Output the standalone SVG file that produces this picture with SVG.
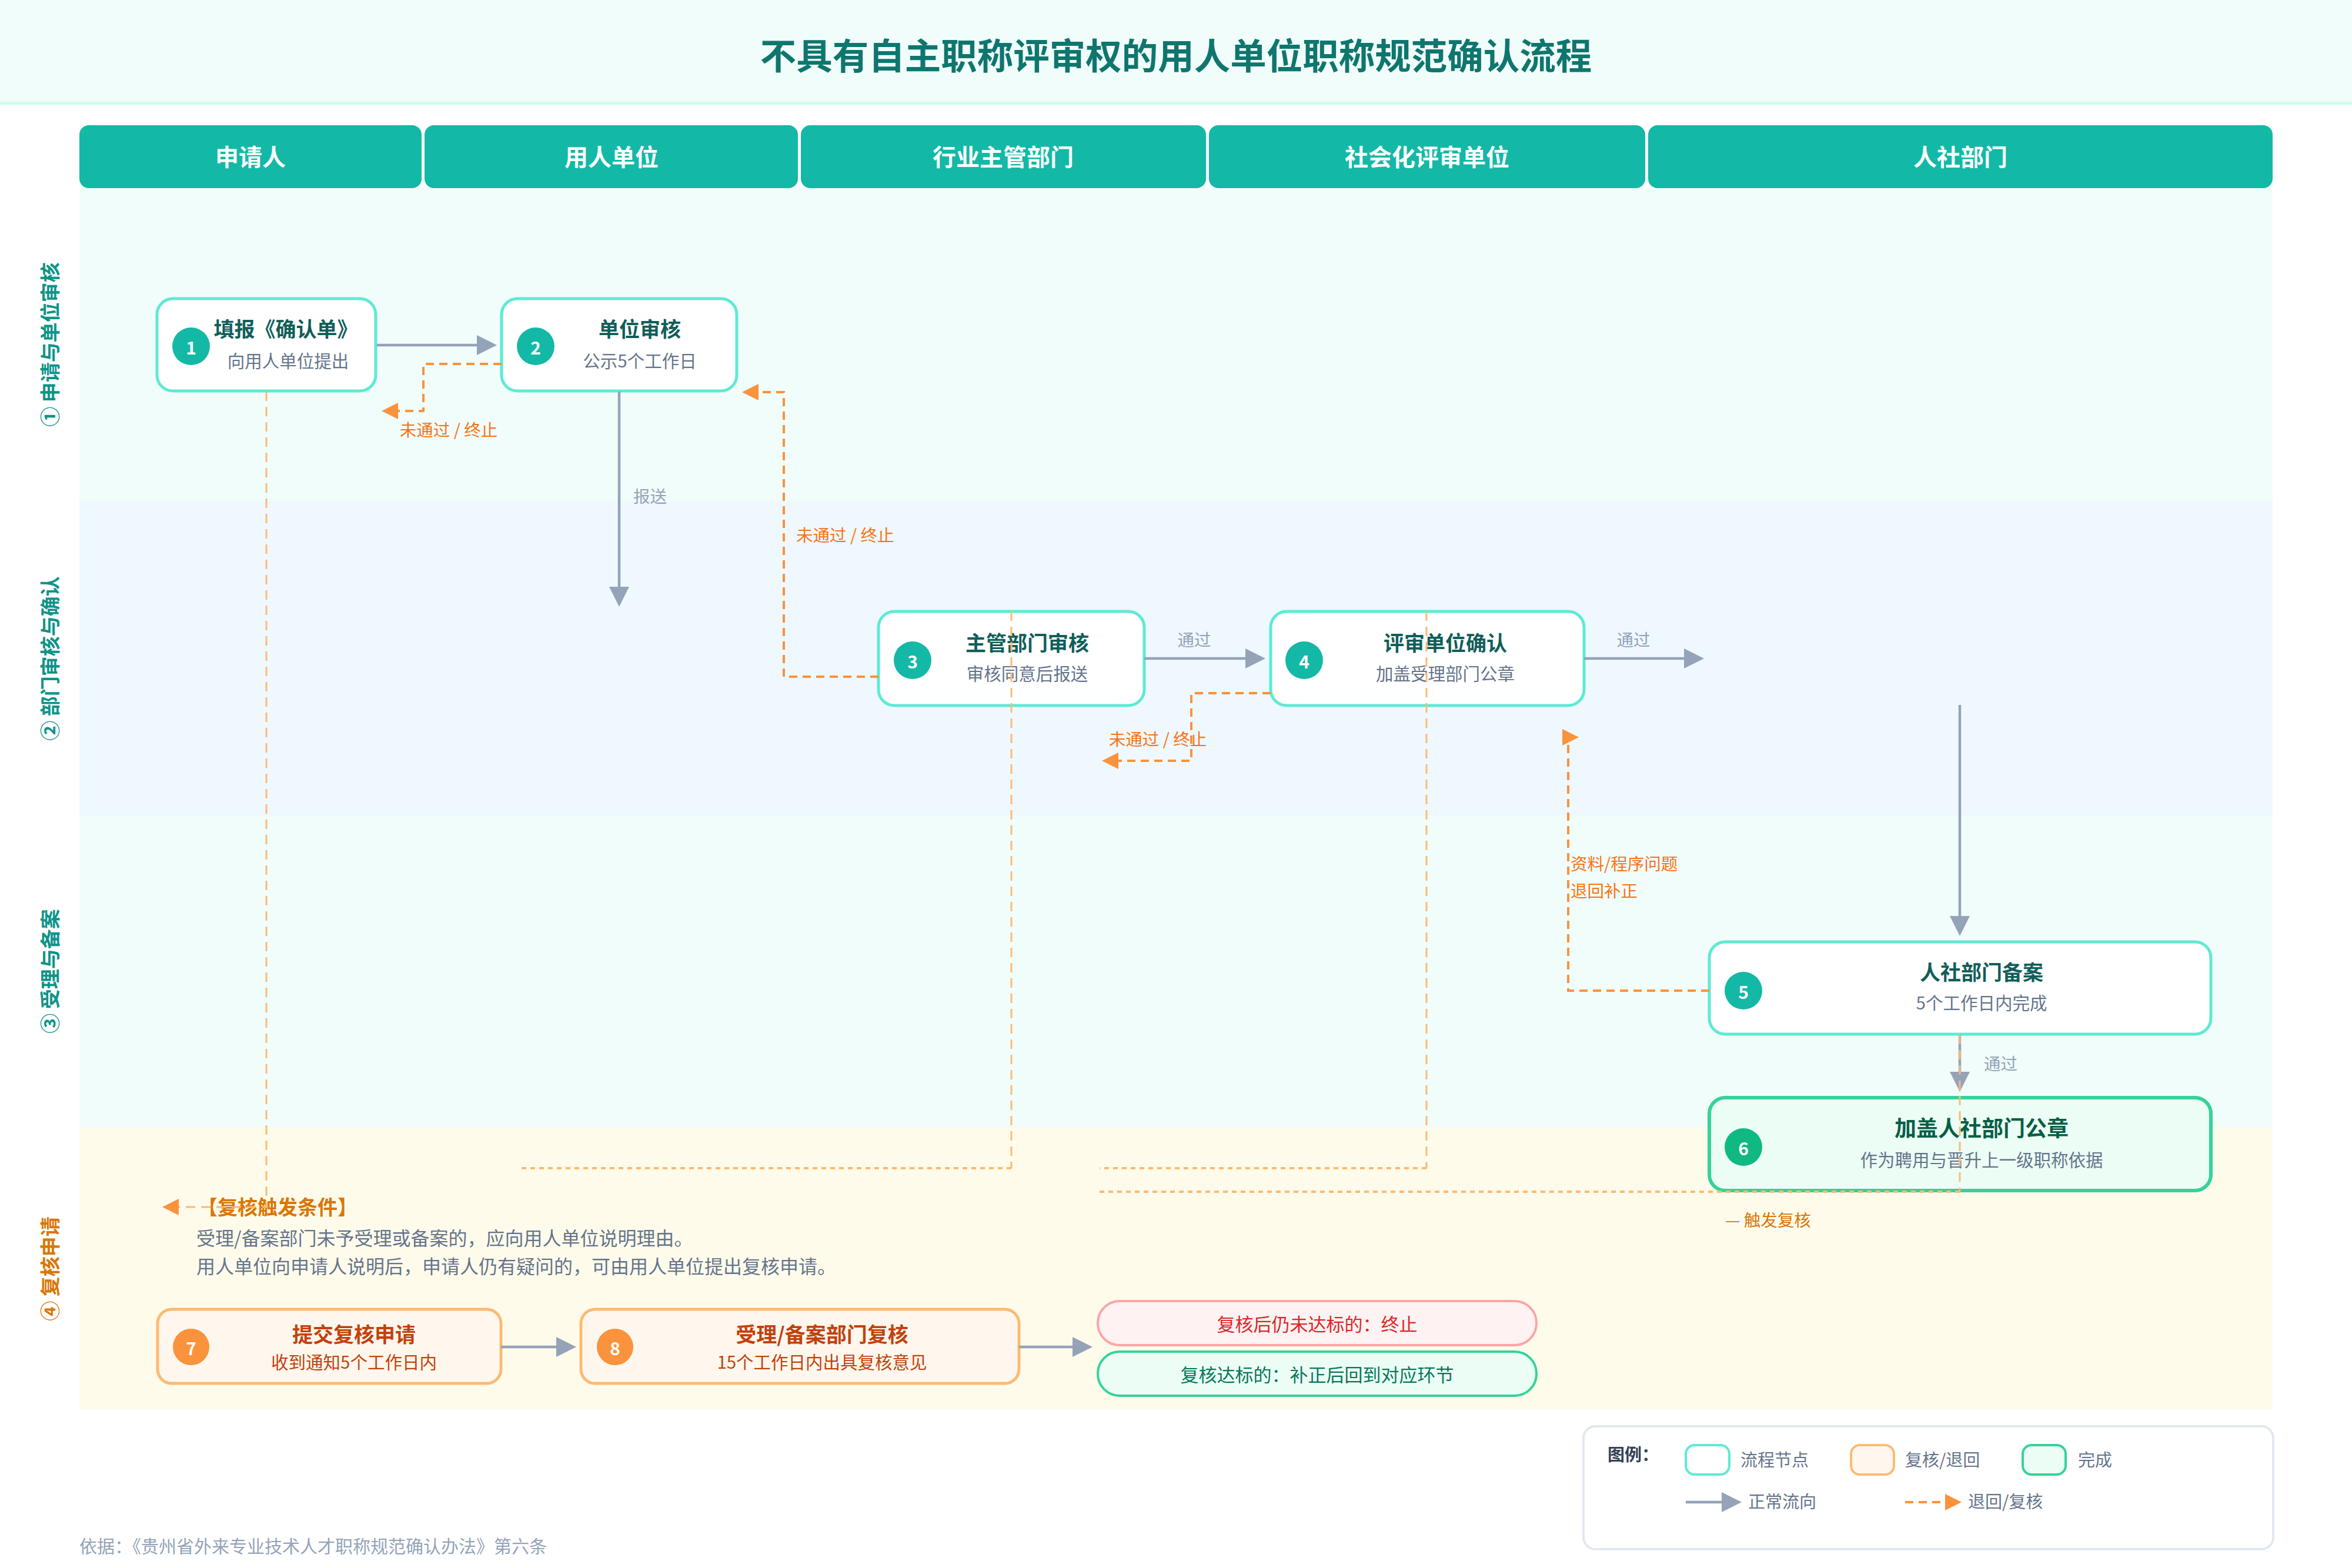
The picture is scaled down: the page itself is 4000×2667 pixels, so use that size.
<svg xmlns="http://www.w3.org/2000/svg" width="4000" height="2667" viewBox="0 0 4000 2667">
<defs>
<style>
text{font-family:"Noto Sans CJK SC","Noto Sans",sans-serif;}
.hdr{fill:#14b8a6;}
.hdrt{fill:#ffffff;font-size:40px;font-weight:700;text-anchor:middle;dominant-baseline:central;}
.row{font-size:34px;font-weight:700;text-anchor:middle;dominant-baseline:central;}
.node{fill:#ffffff;stroke:#5eead4;stroke-width:5;}
.done{fill:#ecfdf5;stroke:#34d399;stroke-width:6;}
.rev{fill:#fff7ed;stroke:#fdba74;stroke-width:5;}
.num{fill:#14b8a6;}
.numt{fill:#ffffff;font-size:30px;font-weight:700;text-anchor:middle;dominant-baseline:central;}
.nt{fill:#115e59;font-size:35px;font-weight:700;text-anchor:middle;dominant-baseline:central;}
.ns{fill:#64748b;font-size:29.5px;text-anchor:middle;dominant-baseline:central;}
.rt{fill:#c2410c;font-size:35px;font-weight:700;text-anchor:middle;dominant-baseline:central;}
.rs{fill:#c2410c;font-size:29.5px;text-anchor:middle;dominant-baseline:central;}
.flow{fill:none;stroke:#94a3b8;stroke-width:4.5;}
.back{fill:none;stroke:#fb923c;stroke-width:4;stroke-dasharray:14 9;}
.trig{fill:none;stroke:#fdba74;stroke-width:3;stroke-dasharray:16 10;}
.dot{fill:none;stroke:#fdba74;stroke-width:4;stroke-dasharray:8 7;}
.gl{fill:#94a3b8;font-size:28.5px;dominant-baseline:central;}
.ol{fill:#f97316;font-size:28.5px;dominant-baseline:central;}
.body{fill:#64748b;font-size:32px;dominant-baseline:central;}
.lg{fill:#64748b;font-size:29px;dominant-baseline:central;}
</style>
<marker id="ag" markerUnits="userSpaceOnUse" markerWidth="34" markerHeight="34" viewBox="0 0 34 34" refX="24" refY="17" orient="auto"><path d="M0,0 L34,17 L0,34 Z" fill="#94a3b8"/></marker>
<marker id="ao" markerUnits="userSpaceOnUse" markerWidth="28" markerHeight="28" viewBox="0 0 28 28" refX="18" refY="14" orient="auto"><path d="M0,0 L28,14 L0,28 Z" fill="#fb923c"/></marker>
</defs>

<rect x="0" y="0" width="4000" height="2667" fill="#ffffff"/>
<rect x="0" y="0" width="4000" height="175" fill="#f0fdfa"/>
<line x1="0" y1="175.5" x2="4000" y2="175.5" stroke="#ccfbf1" stroke-width="5"/>
<text x="2000" y="91" fill="#0f766e" font-size="61.5" font-weight="700" text-anchor="middle" dominant-baseline="central">不具有自主职称评审权的用人单位职称规范确认流程</text>

<g id="phases">
<rect x="135" y="320" width="3730" height="532" fill="#f0fdfa"/>
<rect x="135" y="852" width="3730" height="535" fill="#eff8ff"/>
<rect x="135" y="1387" width="3730" height="530" fill="#f0fdfa"/>
<rect x="135" y="1917" width="3730" height="481" fill="#fffbeb"/>
<text class="row" fill="#0d9488" transform="translate(83,586) rotate(-90)">① 申请与单位审核</text>
<text class="row" fill="#0d9488" transform="translate(83,1120) rotate(-90)">② 部门审核与确认</text>
<text class="row" fill="#0d9488" transform="translate(83,1652) rotate(-90)">③ 受理与备案</text>
<text class="row" fill="#d97706" transform="translate(83,2158) rotate(-90)">④ 复核申请</text>
</g>

<g id="lanes">
<rect class="hdr" x="135" y="213" width="582" height="107" rx="16"/>
<text class="hdrt" x="426" y="265">申请人</text>
<rect class="hdr" x="722" y="213" width="635" height="107" rx="16"/>
<text class="hdrt" x="1040" y="265">用人单位</text>
<rect class="hdr" x="1362" y="213" width="689" height="107" rx="16"/>
<text class="hdrt" x="1706" y="265">行业主管部门</text>
<rect class="hdr" x="2056" y="213" width="742" height="107" rx="16"/>
<text class="hdrt" x="2427" y="265">社会化评审单位</text>
<rect class="hdr" x="2803" y="213" width="1062" height="107" rx="16"/>
<text class="hdrt" x="3334" y="265">人社部门</text>
</g>

<g id="node1">
<rect class="node" x="267" y="508" width="372" height="157" rx="27"/>
<circle class="num" cx="325" cy="589" r="32"/>
<text class="numt" x="325" y="590">1</text>
<text class="nt" x="486" y="557">填报《确认单》</text>
<text class="ns" x="490" y="612">向用人单位提出</text>
</g>

<g id="node2">
<rect class="node" x="853" y="508" width="400" height="157" rx="27"/>
<circle class="num" cx="911" cy="589" r="32"/>
<text class="numt" x="911" y="590">2</text>
<text class="nt" x="1088" y="557">单位审核</text>
<text class="ns" x="1088" y="612">公示5个工作日</text>
</g>

<g id="node3">
<rect class="node" x="1494" y="1040" width="452" height="160" rx="27"/>
<circle class="num" cx="1552" cy="1123" r="32"/>
<text class="numt" x="1552" y="1124">3</text>
<text class="nt" x="1747" y="1091">主管部门审核</text>
<text class="ns" x="1747" y="1144">审核同意后报送</text>
</g>

<g id="node4">
<rect class="node" x="2161" y="1040" width="533" height="160" rx="27"/>
<circle class="num" cx="2218" cy="1123" r="32"/>
<text class="numt" x="2218" y="1124">4</text>
<text class="nt" x="2458" y="1091">评审单位确认</text>
<text class="ns" x="2458" y="1144">加盖受理部门公章</text>
</g>

<g id="node5">
<rect class="node" x="2907" y="1602" width="853" height="157" rx="27"/>
<circle class="num" cx="2965" cy="1685" r="32"/>
<text class="numt" x="2965" y="1686">5</text>
<text class="nt" x="3370" y="1651">人社部门备案</text>
<text class="ns" x="3370" y="1704">5个工作日内完成</text>
</g>

<g id="node6">
<rect class="done" x="2907" y="1867" width="853" height="158" rx="27"/>
<circle cx="2965" cy="1951" r="32" fill="#10b981"/>
<text class="numt" x="2965" y="1952">6</text>
<text class="nt" x="3370" y="1917" style="fill:#065f46;font-size:37px">加盖人社部门公章</text>
<text class="ns" x="3370" y="1971">作为聘用与晋升上一级职称依据</text>
</g>

<g id="trigger">
<text x="336" y="2051" fill="#d97706" font-size="34" font-weight="700" dominant-baseline="central">【复核触发条件】</text>
<text class="body" x="334" y="2104">受理/备案部门未予受理或备案的，应向用人单位说明理由。</text>
<text class="body" x="334" y="2152">用人单位向申请人说明后，申请人仍有疑问的，可由用人单位提出复核申请。</text>
</g>

<g id="node7">
<rect class="rev" x="268" y="2227" width="584" height="126" rx="24"/>
<circle cx="325" cy="2291" r="31" fill="#fb923c"/>
<text class="numt" x="325" y="2292">7</text>
<text class="rt" x="602" y="2267">提交复核申请</text>
<text class="rs" x="602" y="2315">收到通知5个工作日内</text>
</g>

<g id="node8">
<rect class="rev" x="988" y="2227" width="745" height="126" rx="24"/>
<circle cx="1046" cy="2291" r="31" fill="#fb923c"/>
<text class="numt" x="1046" y="2292">8</text>
<text class="rt" x="1398" y="2267">受理/备案部门复核</text>
<text class="rs" x="1398" y="2315">15个工作日内出具复核意见</text>
</g>

<g id="outcome-fail">
<rect x="1867" y="2213" width="746" height="75" rx="37" fill="#fef2f2" stroke="#fca5a5" stroke-width="4"/>
<text x="2240" y="2250" fill="#dc2626" font-size="31" text-anchor="middle" dominant-baseline="central">复核后仍未达标的：终止</text>
</g>

<g id="outcome-pass">
<rect x="1867" y="2299" width="746" height="75" rx="37" fill="#ecfdf5" stroke="#34d399" stroke-width="4"/>
<text x="2240" y="2336" fill="#047857" font-size="31" text-anchor="middle" dominant-baseline="central">复核达标的：补正后回到对应环节</text>
</g>

<g id="connectors">
<path class="flow" d="M641 587 H835" marker-end="url(#ag)"/>
<path class="flow" d="M1053 666 V1022" marker-end="url(#ag)"/>
<text class="gl" x="1077" y="842">报送</text>
<path class="flow" d="M1946 1120 H2142" marker-end="url(#ag)"/>
<text class="gl" x="2031" y="1086" text-anchor="middle">通过</text>
<path class="flow" d="M2694 1120 H2888" marker-end="url(#ag)"/>
<text class="gl" x="2778" y="1086" text-anchor="middle">通过</text>
<path class="flow" d="M3333 1199 V1582" marker-end="url(#ag)"/>
<path class="flow" d="M3333 1760 V1847" marker-end="url(#ag)"/>
<text class="gl" x="3374" y="1807">通过</text>
<path class="flow" d="M852 2291 H970" marker-end="url(#ag)"/>
<path class="flow" d="M1733 2291 H1848" marker-end="url(#ag)"/>

<path class="back" d="M853 619 H720 V699 H659" marker-end="url(#ao)"/>
<text class="ol" x="763" y="729" text-anchor="middle">未通过 / 终止</text>
<path class="back" d="M1494 1151 H1333 V667 H1272" marker-end="url(#ao)"/>
<text class="ol" x="1354" y="908">未通过 / 终止</text>
<path class="back" d="M2161 1179 H2026 V1294 H1884" marker-end="url(#ao)"/>
<text class="ol" x="1969" y="1255" text-anchor="middle">未通过 / 终止</text>
<path class="back" d="M2907 1685 H2667 V1266"/>
<polygon points="2657,1240 2685,1254 2657,1268" fill="#fb923c"/>
<text class="ol" x="2671" y="1467">资料/程序问题</text>
<text class="ol" x="2671" y="1513">退回补正</text>

<path class="trig" d="M453 666 V2053 H286" marker-end="url(#ao)"/>
<path class="trig" d="M1720 1040 V1987"/>
<path class="dot" d="M1720 1987 H880"/>
<path class="trig" d="M2426 1040 V1987"/>
<path class="dot" d="M2426 1987 H1870"/>
<path class="trig" d="M3333 1760 V2027"/>
<path class="dot" d="M3333 2027 H1870"/>
<text x="2934" y="2073" fill="#d97706" font-size="28.5" dominant-baseline="central">— 触发复核</text>
</g>

<g id="legend">
<rect x="2693" y="2426" width="1173" height="209" rx="20" fill="#ffffff" stroke="#e2e8f0" stroke-width="4"/>
<text x="2734" y="2472" fill="#334155" font-size="29" font-weight="700" dominant-baseline="central">图例：</text>
<rect x="2867" y="2458" width="74" height="50" rx="15" fill="#ffffff" stroke="#5eead4" stroke-width="4"/>
<text class="lg" x="2960" y="2481">流程节点</text>
<rect x="3148" y="2458" width="73" height="50" rx="15" fill="#fff7ed" stroke="#fdba74" stroke-width="4"/>
<text class="lg" x="3240" y="2481">复核/退回</text>
<rect x="3440" y="2458" width="73" height="50" rx="15" fill="#ecfdf5" stroke="#34d399" stroke-width="4"/>
<text class="lg" x="3534" y="2481">完成</text>
<path class="flow" d="M2867 2555 H2952" marker-end="url(#ag)"/>
<text class="lg" x="2973" y="2552">正常流向</text>
<path class="back" d="M3240 2555 H3326" marker-end="url(#ao)"/>
<text class="lg" x="3347" y="2552">退回/复核</text>
</g>

<text x="135" y="2628" fill="#94a3b8" font-size="30" dominant-baseline="central">依据：《贵州省外来专业技术人才职称规范确认办法》第六条</text>
</svg>
